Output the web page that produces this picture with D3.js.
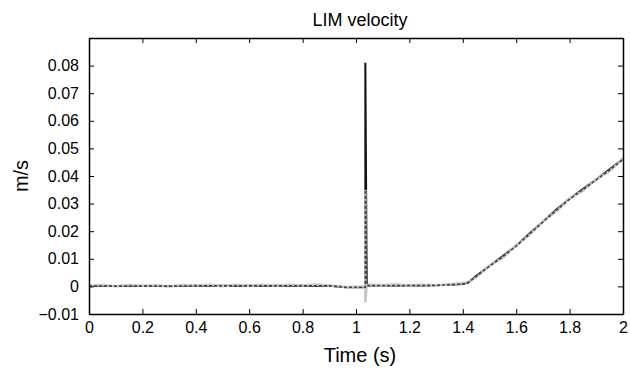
<!DOCTYPE html>
<html>
<head>
<meta charset="utf-8">
<script src="https://cdn.jsdelivr.net/npm/d3@7"></script>
<style>
  body { margin: 0; background: #fff; }
  svg { font-family: "Liberation Sans", Arial, sans-serif; }
</style>
</head>
<body>
<div id="chart"></div>
<script>
// time samples (s); the spike repeats the same instant
const time = [0, 0.05, 0.1, 0.15, 0.2, 0.25, 0.3, 0.35, 0.4, 0.45, 0.5, 0.55, 0.6, 0.65, 0.7, 0.75, 0.8, 0.85, 0.9, 0.93, 0.96, 1.0, 1.035, 1.035, 1.035, 1.035, 1.04, 1.1, 1.15, 1.2, 1.25, 1.3, 1.35, 1.4, 1.42, 1.45, 1.5, 1.55, 1.6, 1.65, 1.7, 1.75, 1.8, 1.85, 1.9, 1.95, 2.0]

// solid black trace
const velA = [0.0001, 0.0001, 0.0001, 0.0001, 0.0001, 0.0001, 0.0001, 0.0001, 0.0002, 0.0002, 0.0002, 0.0002, 0.0002, 0.0002, 0.0002, 0.0002, 0.0002, 0.0002, 0.0002, 0.0000, -0.0003, -0.0003, -0.0003, -0.0003, 0.081, 0.081, 0.0003, 0.0003, 0.0003, 0.0003, 0.0003, 0.0004, 0.0006, 0.0009, 0.0014, 0.0038, 0.0075, 0.011, 0.0148, 0.0192, 0.0235, 0.0278, 0.0318, 0.0353, 0.0388, 0.0424, 0.0462]

// dashed dark grey trace
const velB = [0.0001, 0.0001, 0.0001, 0.0001, 0.0001, 0.0001, 0.0001, 0.0001, 0.0002, 0.0002, 0.0002, 0.0002, 0.0002, 0.0002, 0.0002, 0.0002, 0.0002, 0.0002, 0.0002, 0.0000, -0.0003, -0.0003, -0.0003, -0.0003, 0.035, 0.035, 0.0003, 0.0003, 0.0003, 0.0003, 0.0003, 0.0004, 0.0006, 0.0009, 0.0014, 0.0036, 0.0073, 0.0108, 0.0146, 0.019, 0.0233, 0.0276, 0.0316, 0.0351, 0.0386, 0.0422, 0.046]

// light grey noisy trace
const velC = [0.0002, 0.0005, 0.0001, 0.0005, 0.0002, 0.0004, 0.0000, 0.0005, 0.0003, 0.0006, 0.0001, 0.0006, 0.0002, 0.0006, 0.0002, 0.0006, 0.0003, 0.0007, 0.0003, 0.0001, -0.0002, -0.0001, 0.0000, 0.035, -0.0057, -0.0057, 0.0007, 0.0004, 0.0007, 0.0003, 0.0006, 0.0004, 0.0007, 0.0011, 0.0017, 0.0032, 0.0076, 0.0104, 0.0149, 0.0187, 0.0236, 0.0272, 0.0319, 0.0347, 0.0389, 0.0418, 0.0463]

const xTicks = [0, 0.2, 0.4, 0.6, 0.8, 1, 1.2, 1.4, 1.6, 1.8, 2]
const yTicks = [-0.01, 0, 0.01, 0.02, 0.03, 0.04, 0.05, 0.06, 0.07, 0.08]

const width = 630, height = 372
const margin = { top: 38, right: 7, bottom: 58, left: 89 }

const svg = d3.select('#chart').append('svg')
  .attr('width', width)
  .attr('height', height)

const x = d3.scaleLinear()
  .domain([0, 2])
  .range([margin.left, width - margin.right])

const y = d3.scaleLinear()
  .domain([-0.01, 0.09])
  .range([height - margin.bottom, margin.top])

const line = vals => d3.line()
  .x((d, i) => x(time[i]))
  .y(d => y(d))(vals)

svg.append('path')
  .attr('d', line(velA))
  .attr('fill', 'none')
  .attr('stroke', '#111')
  .attr('stroke-width', 2)

svg.append('path')
  .attr('d', line(velC))
  .attr('fill', 'none')
  .attr('stroke', '#c6c6c6')
  .attr('stroke-width', 2.5)

svg.append('path')
  .attr('d', line(velB))
  .attr('fill', 'none')
  .attr('stroke', '#444')
  .attr('stroke-width', 1.6)
  .attr('stroke-dasharray', '3,2')

// Frame with inward ticks on all sides
const fmtY = d => d === 0 ? '0' : d3.format('.2f')(d).replace('-', '\u2212')

svg.append('g')
  .attr('transform', `translate(0,${height - margin.bottom})`)
  .call(d3.axisBottom(x).tickValues(xTicks).tickSizeInner(-5).tickSizeOuter(0).tickPadding(8).tickFormat(d3.format('')))
svg.append('g')
  .attr('transform', `translate(0,${margin.top})`)
  .call(d3.axisTop(x).tickValues(xTicks).tickSizeInner(-5).tickSizeOuter(0).tickFormat(''))
svg.append('g')
  .attr('transform', `translate(${margin.left},0)`)
  .call(d3.axisLeft(y).tickValues(yTicks).tickSizeInner(-5).tickSizeOuter(0).tickPadding(10).tickFormat(fmtY))
svg.append('g')
  .attr('transform', `translate(${width - margin.right},0)`)
  .call(d3.axisRight(y).tickValues(yTicks).tickSizeInner(-5).tickSizeOuter(0).tickFormat(''))

svg.selectAll('.domain').attr('stroke', '#000').attr('stroke-width', 1.5)
svg.selectAll('.tick line').attr('stroke', '#000')
svg.selectAll('.tick text').attr('font-size', 16).attr('fill', '#000')
  .attr('font-family', '"Liberation Sans", Arial, sans-serif')

svg.append('text')
  .attr('x', (margin.left + width - margin.right) / 2 + 4)
  .attr('y', 26)
  .attr('text-anchor', 'middle')
  .attr('font-size', 18)
  .text('LIM velocity')

svg.append('text')
  .attr('x', (margin.left + width - margin.right) / 2 + 4)
  .attr('y', 362)
  .attr('text-anchor', 'middle')
  .attr('font-size', 20)
  .text('Time (s)')

svg.append('text')
  .attr('transform', `translate(28,${(margin.top + height - margin.bottom) / 2}) rotate(-90)`)
  .attr('text-anchor', 'middle')
  .attr('font-size', 20)
  .text('m/s')
</script>
</body>
</html>
